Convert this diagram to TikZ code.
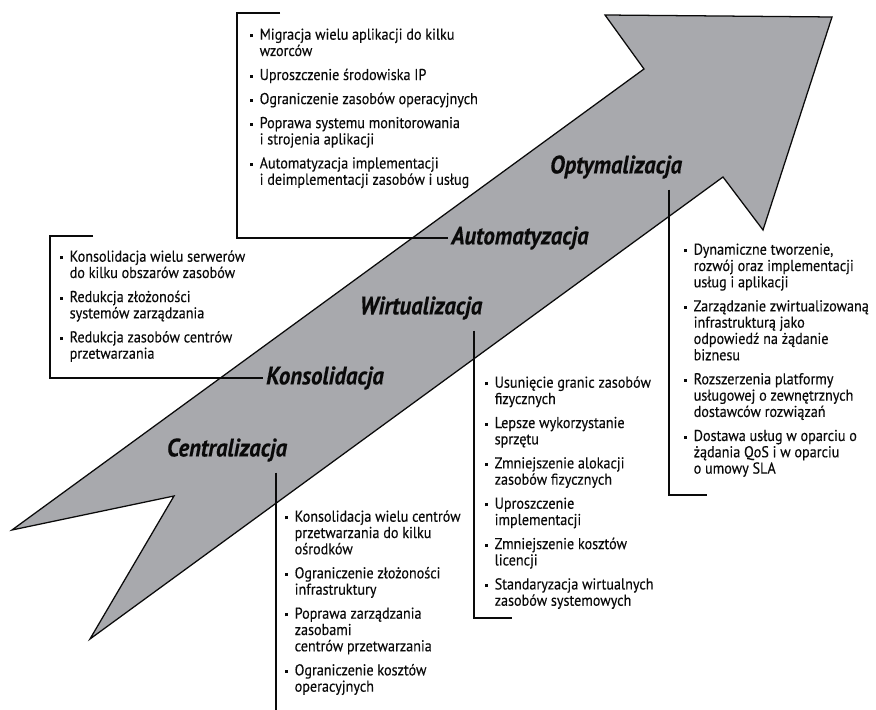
\documentclass[tikz,border=0pt]{standalone}
\usepackage{fontspec}
\setmainfont{PT Sans}[FakeStretch=0.9, FakeBold=0.3]
\usepackage{tikz}
\usetikzlibrary{positioning}
\definecolor{mydark}{RGB}{10,10,10}
\definecolor{mygray}{RGB}{168,169,173}
\newcommand{\pkt}{\rule[0.3ex]{2.2pt}{2.2pt}}
\newenvironment{pktlist}{\begin{tabular}{@{}l@{\hspace{4.5pt}}l@{}}}{\end{tabular}}
\tikzset{
  bigarrow/.style={draw=mydark, fill=mygray, line width=0.9pt, line join=miter},
  stagelbl/.style={font=\fontsize{18}{20}\selectfont\bfseries\itshape,
    text=mydark, inner sep=2pt},
  itemlist/.style={font=\fontsize{11.2}{11.6}\selectfont, text=mydark,
    inner sep=0pt, anchor=north west},
  line/.style={line width=0.8pt, color=mydark}
}

\begin{document}
\begin{tikzpicture}
  \useasboundingbox (0,0) rectangle (21.90,17.75);

  % Arrow
  \draw[bigarrow] (0.30,4.50) -- (16.10,16.025) -- (15.125,17.375) -- (20.80,17.325)
    -- (19.075,12.00) -- (18.075,13.325) -- (2.25,1.775) -- (4.35,5.35) -- cycle;

  % Stages
  \node[stagelbl] (cent) at (5.675,6.50) {Centralizacja};
  \node[stagelbl] (kons) at (8.125,8.30) {Konsolidacja};
  \node[stagelbl] (wirt) at (10.525,10.05) {Wirtualizacja};
  \node[stagelbl] (auto) at (13.00,11.80) {Automatyzacja};
  \node[stagelbl] (opty) at (15.40,13.575) {Optymalizacja};

  % Lists
  \node[itemlist] (autolist) at (6.25,17.05) {\begin{pktlist}
    \pkt & Migracja wielu aplikacji do kilku\\ & wzorców\\[5.5pt]
    \pkt & Uproszczenie środowiska IP\\[5.5pt]
    \pkt & Ograniczenie zasobów operacyjnych\\[5.5pt]
    \pkt & Poprawa systemu monitorowania\\ & i strojenia aplikacji\\[5.5pt]
    \pkt & Automatyzacja implementacji\\ & i deimplementacji zasobów i usług
  \end{pktlist}};
  \node[itemlist] (konslist) at (1.50,11.50) {\begin{pktlist}
    \pkt & Konsolidacja wielu serwerów\\ & do kilku obszarów zasobów\\[5.5pt]
    \pkt & Redukcja złożoności\\ & systemów zarządzania\\[5.5pt]
    \pkt & Redukcja zasobów centrów\\ & przetwarzania
  \end{pktlist}};
  \node[itemlist] (optylist) at (17.10,11.675) {\begin{pktlist}
    \pkt & Dynamiczne tworzenie,\\ & rozwój oraz implementacji\\ & usług i aplikacji\\[5.5pt]
    \pkt & Zarządzanie zwirtualizowaną\\ & infrastrukturą jako\\ & odpowiedź na żądanie\\ & biznesu\\[5.5pt]
    \pkt & Rozszerzenia platformy\\ & usługowej o zewnętrznych\\ & dostawców rozwiązań\\[5.5pt]
    \pkt & Dostawa usług w oparciu o\\ & żądania QoS i w oparciu\\ & o umowy SLA
  \end{pktlist}};
  \node[itemlist] (wirtlist) at (12.125,8.35) {\begin{pktlist}
    \pkt & Usunięcie granic zasobów\\ & fizycznych\\[5.5pt]
    \pkt & Lepsze wykorzystanie\\ & sprzętu\\[5.5pt]
    \pkt & Zmniejszenie alokacji\\ & zasobów fizycznych\\[5.5pt]
    \pkt & Uproszczenie\\ & implementacji\\[5.5pt]
    \pkt & Zmniejszenie kosztów\\ & licencji\\[5.5pt]
    \pkt & Standaryzacja wirtualnych\\ & zasobów systemowych
  \end{pktlist}};
  \node[itemlist] (centlist) at (7.125,5.00) {\begin{pktlist}
    \pkt & Konsolidacja wielu centrów\\ & przetwarzania do kilku\\ & ośrodków\\[5.5pt]
    \pkt & Ograniczenie złożoności\\ & infrastruktury\\[5.5pt]
    \pkt & Poprawa zarządzania\\ & zasobami\\ & centrów przetwarzania\\[5.5pt]
    \pkt & Ograniczenie kosztów\\ & operacyjnych
  \end{pktlist}};

  % Connectors
  \coordinate (autotop) at (7.00,17.425);
  \coordinate (konstop) at (2.325,11.85);
  \coordinate (optyfoot) at (16.725,5.375);
  \coordinate (wirtfoot) at (11.85,2.30);
  \coordinate (centfoot) at (6.90,0);
  \draw[line] (autotop) -- ++(-1.075,0) |- (auto.west);
  \draw[line] (konstop) -- ++(-1.075,0) |- (kons.west);
  \draw[line] ([yshift=-2mm]opty.south -| optyfoot) -- (optyfoot) -- ++(0.95,0);
  \draw[line] ([yshift=-2mm]wirt.south -| wirtfoot) -- (wirtfoot) -- ++(0.95,0);
  \draw[line] ([yshift=-2mm]cent.south -| centfoot) -- (centfoot);
\end{tikzpicture}
\end{document}
